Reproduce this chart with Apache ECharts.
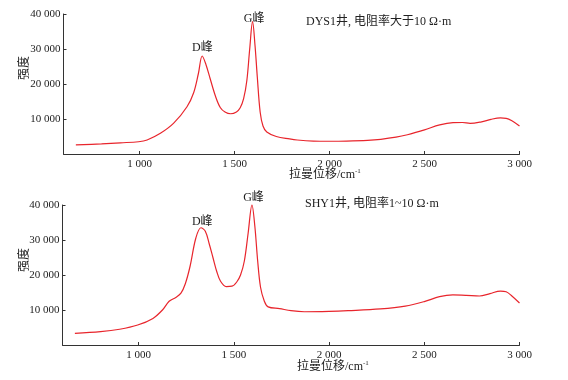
<!DOCTYPE html>
<html>
<head>
<meta charset="utf-8">
<script src="https://cdn.jsdelivr.net/npm/echarts@6/dist/echarts.min.js"></script>
<style>html,body{margin:0;padding:0;background:#fff;}#c{width:568px;height:380px;}</style>
</head>
<body>
<div id="c"></div>
<script>
// ---- data ----
var xTicks = [1000, 1500, 2000, 2500, 3000];
var yTicks = [10000, 20000, 30000, 40000];

var dysX = [665, 800, 900, 995, 1040, 1110, 1180, 1250, 1285, 1310, 1330, 1350, 1372, 1400, 1425, 1450, 1480, 1510, 1530, 1548, 1565, 1580, 1595, 1608, 1620, 1635, 1650, 1670, 1720, 1790, 1830, 1915, 2000, 2090, 2200, 2270, 2350, 2410, 2500, 2580, 2650, 2700, 2740, 2800, 2850, 2900, 2930, 2960, 3000];
var dysY = [2600, 2900, 3200, 3500, 4000, 5900, 8800, 13500, 17500, 23000, 28000, 25500, 21500, 16500, 13300, 12000, 11500, 12000, 13200, 15800, 21000, 30000, 37800, 31000, 22000, 12000, 8000, 6300, 5000, 4300, 4000, 3700, 3650, 3700, 3900, 4200, 4800, 5500, 6900, 8300, 8950, 9000, 8750, 9200, 9900, 10300, 10200, 9500, 8000];

var shyX = [665, 800, 900, 995, 1075, 1125, 1160, 1195, 1222, 1245, 1270, 1300, 1327, 1350, 1370, 1390, 1410, 1430, 1460, 1490, 1515, 1535, 1555, 1575, 1595, 1610, 1625, 1640, 1660, 1680, 1740, 1800, 1870, 2000, 2100, 2270, 2400, 2500, 2580, 2650, 2720, 2790, 2845, 2900, 2930, 2960, 3000];
var shyY = [3300, 3800, 4500, 5700, 7600, 10000, 12500, 13600, 14800, 17500, 22500, 30500, 33500, 32500, 29000, 25000, 21000, 18200, 16700, 16800, 18000, 20000, 24000, 32000, 40000, 34000, 24000, 16500, 12500, 10900, 10400, 9800, 9500, 9600, 9800, 10300, 11100, 12400, 13800, 14300, 14200, 14000, 14700, 15400, 15200, 14000, 12000];

var dysTitle = 'DYS1井, 电阻率大于10 Ω·m';
var shyTitle = 'SHY1井, 电阻率1~10 Ω·m';
var yName = '强度';
var peakNames = ['D峰', 'G峰'];
var dysPeakPos = [[1331, 30300], [1603, 38600]];
var shyPeakPos = [[1334, 35100], [1603, 40000]];

// ---- chart ----
var FONT = "'Liberation Serif', 'Noto Sans CJK SC', serif";
var TXT = '#222';
var AX = '#333';
function zip(a, b) { return a.map(function (v, i) { return [v, b[i]]; }); }
function fmt(v) { var s = String(v); return s.length > 3 ? s.slice(0, s.length - 3) + ' ' + s.slice(-3) : s; }

function xAxisCfg(gi) {
  return {
    type: 'value', gridIndex: gi, min: 600, max: 3000,
    axisLine: { lineStyle: { color: AX, width: 1 } },
    axisTick: { show: true, inside: true, length: 3, customValues: xTicks, lineStyle: { color: AX } },
    axisLabel: { customValues: xTicks, formatter: fmt, color: TXT, fontFamily: FONT, fontSize: 11, margin: 5 },
    splitLine: { show: false }
  };
}
function yAxisCfg(gi) {
  return {
    type: 'value', gridIndex: gi, min: 0, max: 40000,
    axisLine: { show: true, lineStyle: { color: AX, width: 1 } },
    axisTick: { show: true, inside: true, length: 3, customValues: yTicks, lineStyle: { color: AX } },
    axisLabel: { customValues: yTicks, formatter: fmt, color: TXT, fontFamily: FONT, fontSize: 11, margin: 3 },
    splitLine: { show: false }
  };
}
function peaks(pos, offs) {
  return {
    symbol: 'circle', symbolSize: 0, silent: true,
    label: { show: true, position: 'inside', color: TXT, fontFamily: FONT, fontSize: 12, formatter: '{b}' },
    data: pos.map(function (p, i) { return { name: peakNames[i], coord: p, label: { offset: offs[i] } }; })
  };
}
function lineSeries(gi, x, y, pos, offs) {
  return {
    type: 'line', xAxisIndex: gi, yAxisIndex: gi, data: zip(x, y), clip: false,
    smooth: 0.35, showSymbol: false, symbol: 'none',
    lineStyle: { color: '#e8252c', width: 1.2 }, markPoint: peaks(pos, offs), animation: false
  };
}
function txt(x, y, t, rot) {
  return {
    type: 'text', x: x, y: y, rotation: rot || 0,
    style: { text: t, fill: TXT, font: '12px ' + FONT, textAlign: 'center', textVerticalAlign: 'middle' }
  };
}
function xName(x, y) {
  return {
    type: 'text', x: x, y: y,
    style: {
      text: '{a|拉曼位移/cm}{b|-1}', textAlign: 'left', textVerticalAlign: 'middle',
      rich: { a: { fontFamily: FONT, fontSize: 12, fill: TXT, color: TXT }, b: { fontFamily: FONT, fontSize: 7, color: TXT, fill: TXT, verticalAlign: 'top', padding: [0, 0, 7, 0] } }
    }
  };
}

var chart = echarts.init(document.getElementById('c'), null, { renderer: 'canvas' });
chart.setOption({
  backgroundColor: '#fff',
  animation: false,
  grid: [
    { left: 63.5, right: 48.5, top: 14, height: 140 },
    { left: 62.5, right: 48.5, top: 205, height: 140 }
  ],
  xAxis: [xAxisCfg(0), xAxisCfg(1)],
  yAxis: [yAxisCfg(0), yAxisCfg(1)],
  series: [
    lineSeries(0, dysX, dysY, dysPeakPos, [[0, 0], [0, 0]]),
    lineSeries(1, shyX, shyY, shyPeakPos, [[0, 0], [0, -7]])
  ],
  graphic: [
    { type: 'text', x: 306, y: 22, style: { text: dysTitle, fill: TXT, font: '12px ' + FONT, textVerticalAlign: 'middle' } },
    { type: 'text', x: 305, y: 204, style: { text: shyTitle, fill: TXT, font: '12px ' + FONT, textVerticalAlign: 'middle' } },
    txt(25, 68, yName, -Math.PI / 2 * -1),
    txt(25, 260, yName, Math.PI / 2),
    xName(289, 175),
    xName(297, 367)
  ]
});
</script>
</body>
</html>
